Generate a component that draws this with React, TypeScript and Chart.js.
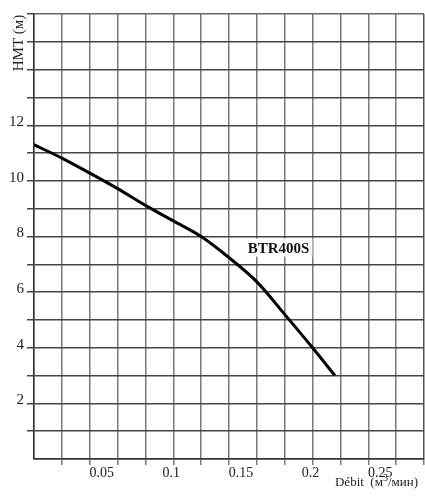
import React, { useEffect, useRef } from "react";
import { Chart, registerables } from "chart.js";

Chart.register(...registerables);

// Data
const flowValues = [0, 0.02, 0.04, 0.06, 0.08, 0.1, 0.12, 0.14, 0.16, 0.18, 0.2, 0.216];
const headValues = [11.3, 10.82, 10.28, 9.72, 9.12, 8.56, 8.0, 7.24, 6.37, 5.2, 4.0, 3.0];
const xLabelTicks = [0.05, 0.1, 0.15, 0.2, 0.25];
const yLabelTicks = [2, 4, 6, 8, 10, 12];
const xMax = 0.28;
const xGridStep = 0.02;
const yMax = 16;
const seriesName = "BTR400S";
const seriesLabelPos = { x: 0.1756, y: 7.6 };
const yTitle = "HMT (м)";

const FONT = "'Liberation Serif', 'Times New Roman', serif";

const isGrid = (v: number) => Math.abs(v / xGridStep - Math.round(v / xGridStep)) < 1e-6;
const isLabel = (v: number) => xLabelTicks.some((t) => Math.abs(t - v) < 1e-6);

const textPlugin = {
  id: "textPlugin",
  afterDraw(chart: any) {
    const { ctx, scales } = chart;
    const xs = scales.x;
    const ys = scales.y;
    ctx.save();
    // series label
    ctx.font = `bold 15px ${FONT}`;
    ctx.textAlign = "center";
    ctx.textBaseline = "middle";
    const px = xs.getPixelForValue(seriesLabelPos.x);
    const py = ys.getPixelForValue(seriesLabelPos.y);
    const w = ctx.measureText(seriesName).width;
    ctx.fillStyle = "#fff";
    ctx.fillRect(px - w / 2 - 3, py - 9, w + 6, 18);
    ctx.fillStyle = "#111";
    ctx.fillText(seriesName, px, py + 1);

    // y title
    ctx.save();
    ctx.translate(19, 43);
    ctx.rotate(-Math.PI / 2);
    ctx.font = `15px ${FONT}`;
    ctx.fillStyle = "#222";
    ctx.textAlign = "center";
    ctx.textBaseline = "middle";
    ctx.fillText(yTitle, 0, 0);
    ctx.restore();

    // x title: Débit (м³/мин), right aligned
    const right = 418;
    const base = 486;
    ctx.fillStyle = "#222";
    ctx.textBaseline = "alphabetic";
    ctx.textAlign = "left";
    const p1 = "Débit  (м";
    const p2 = "3";
    const p3 = "/мин)";
    ctx.font = `13px ${FONT}`;
    const w1 = ctx.measureText(p1).width;
    const w3 = ctx.measureText(p3).width;
    ctx.font = `10px ${FONT}`;
    const w2 = ctx.measureText(p2).width;
    let x0 = right - (w1 + w2 + w3);
    ctx.font = `13px ${FONT}`;
    ctx.fillText(p1, x0, base);
    x0 += w1;
    ctx.font = `10px ${FONT}`;
    ctx.fillText(p2, x0, base - 5);
    x0 += w2;
    ctx.font = `13px ${FONT}`;
    ctx.fillText(p3, x0, base);
    ctx.restore();
  },
};

export default function App() {
  const ref = useRef<HTMLCanvasElement>(null);
  useEffect(() => {
    if (!ref.current) return;
    const chart = new Chart(ref.current, {
      type: "line",
      data: {
        datasets: [
          {
            label: seriesName,
            data: flowValues.map((x, i) => ({ x, y: headValues[i] })),
            borderColor: "#000",
            borderWidth: 3,
            pointRadius: 0,
            tension: 0.35,
            fill: false,
          },
        ],
      },
      options: {
        responsive: false,
        animation: false,
        layout: { padding: { left: 0, top: 14, right: 1, bottom: 0 } },
        plugins: { legend: { display: false }, tooltip: { enabled: false } },
        scales: {
          x: {
            type: "linear",
            min: 0,
            max: xMax,
            afterBuildTicks(scale: any) {
              const vals: number[] = [];
              const n = Math.round(xMax / xGridStep);
              for (let i = 0; i <= n; i++) vals.push(Math.round(i * xGridStep * 1000) / 1000);
              xLabelTicks.forEach((v) => {
                if (!vals.some((u) => Math.abs(u - v) < 1e-6)) vals.push(v);
              });
              vals.sort((a, b) => a - b);
              scale.ticks = vals.map((value) => ({ value }));
            },
            afterFit(scale: any) {
              scale.height = 38;
            },
            ticks: {
              autoSkip: false,
              maxRotation: 0,
              padding: 0,
              color: "#222",
              labelOffset: -2,
              font: { family: FONT, size: 14 },
              callback: (v: any) => (isLabel(Number(v)) ? String(v) : ""),
            },
            grid: {
              color: (c: any) => {
                const v = c.tick ? c.tick.value : 0;
                if (!isGrid(v)) return "rgba(0,0,0,0)";
                if (Math.abs(v - xMax) < 1e-6) return "#555";
                return "#7a7a7a";
              },
              lineWidth: 1.5,
              tickLength: 6,
              tickColor: (c: any) => {
                const v = c.tick ? c.tick.value : 0;
                if (!isGrid(v) || v === 0) return "rgba(0,0,0,0)";
                return "#7a7a7a";
              },
            },
            border: { display: true, color: "#333", width: 1.5 },
          },
          y: {
            type: "linear",
            min: 0,
            max: yMax,
            afterFit(scale: any) {
              scale.width = 34;
            },
            ticks: {
              stepSize: 1,
              autoSkip: false,
              padding: 3,
              color: "#222",
              labelOffset: -3,
              font: { family: FONT, size: 15 },
              callback: (v: any) => (yLabelTicks.includes(Number(v)) ? String(v) : ""),
            },
            grid: {
              color: (c: any) => (c.tick && c.tick.value === yMax ? "#666" : "#444"),
              lineWidth: 1.5,
              tickLength: 7,
              tickColor: (c: any) => (c.tick && c.tick.value === 0 ? "rgba(0,0,0,0)" : "#444"),
            },
            border: { display: true, color: "#333", width: 1.5 },
          },
        },
      },
      plugins: [textPlugin],
    });
    return () => chart.destroy();
  }, []);
  return (
    <div style={{ position: "absolute", left: 0, top: 0, width: 425, height: 497, background: "#fff" }}>
      <canvas ref={ref} width={425} height={497} style={{ display: "block" }} />
    </div>
  );
}
